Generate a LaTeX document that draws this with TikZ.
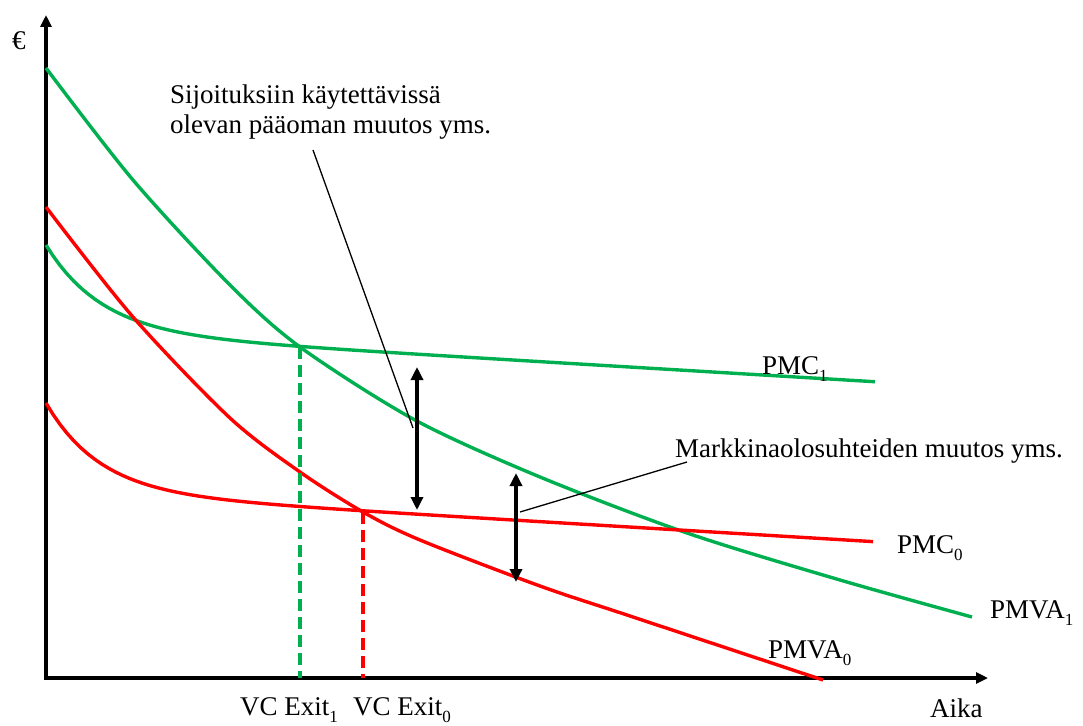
\documentclass[tikz,border=0pt]{standalone}
\usepackage{fontspec}
\setmainfont{Liberation Serif}
\usetikzlibrary{arrows.meta}
\definecolor{cgreen}{RGB}{0,176,80}
\definecolor{cred}{RGB}{255,0,0}
\newcommand{\lowsub}[1]{\raisebox{-0.28em}{\fontsize{17}{17}\selectfont #1}}
\begin{document}
\begin{tikzpicture}[x=1pt,y=-1pt,
  curve/.style={line width=3.4pt, line join=round},
  axisline/.style={line width=3.4pt, {Triangle[length=12pt,width=11pt]}-{Triangle[length=12pt,width=11pt]}},
  dropline/.style={line width=3.4pt, dash pattern=on 12pt off 6pt},
  dblarrow/.style={line width=3.4pt, {Triangle[length=13pt,width=12pt]}-{Triangle[length=13pt,width=12pt]}},
  leader/.style={line width=1.3pt},
  lab/.style={font=\fontsize{27}{30}\selectfont, inner sep=0pt}]
\useasboundingbox (0,0) rectangle (1083,725);

% axes
\coordinate (ytop) at (46,15);
\coordinate (origin) at (46,678);
\coordinate (xend) at (988,678);
\draw[axisline] (ytop) -- (origin) -- (xend);

% curves
\draw[curve, cgreen] plot[smooth] coordinates {(46,68) (133,180) (230,285) (300,347) (415,420) (540,477) (687,533) (840,580) (972,617)};
\draw[curve, cgreen] plot[domain=0:829, samples=120] ({46+\x},{245+87*(1-exp(-\x/55))+0.06*\x});
\draw[curve, cred] plot[smooth] coordinates {(46,207) (133,317) (230,418) (300,472) (363,512) (420,540) (540,586) (630,616) (823,680)};
\draw[curve, cred] plot[domain=0:827, samples=120] ({46+\x},{403+89*(1-exp(-\x/53.3))+0.06*\x});

% exit drop lines
\coordinate (x1top) at (300,347);
\coordinate (x1bot) at (300,678);
\coordinate (x0top) at (363,512);
\coordinate (x0bot) at (363,678);
\draw[dropline, cgreen] (x1top) -- (x1bot);
\draw[dropline, cred] (x0top) -- (x0bot);

% double arrows
\coordinate (a1t) at (417,367);
\coordinate (a1b) at (417,510);
\coordinate (a2t) at (516,473);
\coordinate (a2b) at (516,582);
\draw[dblarrow] (a1t) -- (a1b);
\draw[dblarrow] (a2t) -- (a2b);

% labels
\node[lab, anchor=base west] (euro) at (12,50) {€};
\node[lab, anchor=base west] (pmc1) at (762,374) {PMC\lowsub{1}};
\node[lab, anchor=base west] (pmc0) at (897,553) {PMC\lowsub{0}};
\node[lab, anchor=base west] (pmva1) at (990,618) {PMVA\lowsub{1}};
\node[lab, anchor=base west] (pmva0) at (768,658) {PMVA\lowsub{0}};
\node[lab, anchor=base west] (exit1) at (240,715) {VC Exit\lowsub{1}};
\node[lab, anchor=base west] (exit0) at (353,715) {VC Exit\lowsub{0}};
\node[lab, anchor=base west] (aika) at (930,717) {Aika};
\node[lab, anchor=base west] (mark) at (675,457) {Markkinaolosuhteiden muutos yms.};
\node[lab, anchor=north west, align=left] (sij) at (170,84.5) {Sijoituksiin käytettävissä\\olevan pääoman muutos yms.};

% leader lines
\coordinate (l1a) at (313,150);
\coordinate (l1b) at (413,428);
\coordinate (l2a) at (687,462);
\coordinate (l2b) at (520,512);
\draw[leader] (l1a) -- (l1b);
\draw[leader] (l2a) -- (l2b);
\end{tikzpicture}
\end{document}
